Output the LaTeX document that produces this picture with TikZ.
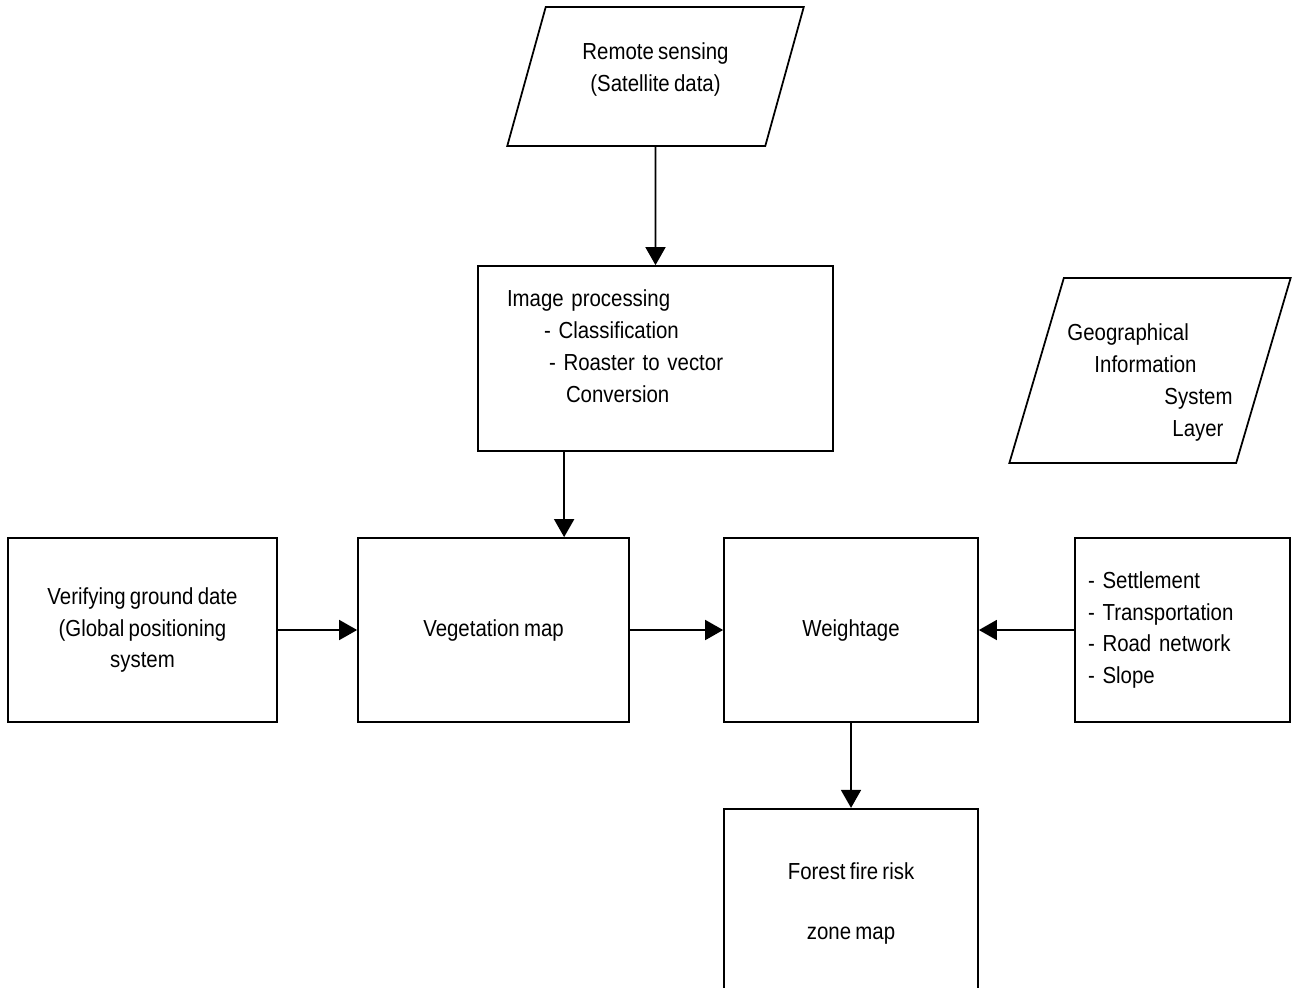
\documentclass[tikz,border=0pt]{standalone}
\usepackage{fontspec}
\setmainfont{Liberation Sans}[FakeStretch=0.88,WordSpace=0.75]
\usetikzlibrary{shapes.geometric,arrows.meta,positioning}
\tikzset{
	procbox/.style={rectangle, draw=black, line width=1pt, align=center,
		font=\fontsize{13.2}{18.2}\selectfont, inner sep=2pt},
	databox/.style={trapezium, trapezium left angle=70, trapezium right angle=110,
		trapezium stretches=true, draw=black, line width=1pt, align=center,
		font=\fontsize{13.2}{18.2}\selectfont, inner sep=2pt},
	flowarr/.style={-{Triangle[length=0.36cm,width=0.4cm]}, line width=1pt}
}

\begin{document}
\begin{tikzpicture}[node distance=1.7cm]
	\useasboundingbox (0,0) rectangle (25.86,-19.74);
	\clip (0,0) rectangle (25.86,-19.74);
	\node[databox, minimum width=5.94cm, minimum height=2.78cm] (rs) at (13.11,-1.53) {Remote sensing\\(Satellite data)\\[-8pt]\mbox{}};
	\node[procbox, minimum width=7.1cm, minimum height=3.7cm, text width=5.94cm, align=left] (img) at (13.11,-7.17)
		{Image processing\\\hspace*{0.74cm}- Classification\\\hspace*{0.84cm}- Roaster to vector\\\hspace*{1.18cm}Conversion\\[-4.6pt]\mbox{}};
	\node[databox, minimum width=5.64cm, minimum height=3.7cm, align=left] (gis) at (23.0,-7.41)
		{\mbox{}\\[5.5pt]Geographical\\\hspace*{0.54cm}Information\\\hspace*{1.94cm}System\\\hspace*{2.1cm}Layer};
	\node[procbox, minimum width=5.38cm, minimum height=3.68cm] (ver) at (2.85,-12.6) {Verifying ground date\\(Global positioning\\system};
	\node[procbox, minimum width=5.42cm, minimum height=3.68cm, right=1.585cm of ver] (veg) {Vegetation map};
	\node[procbox, minimum width=5.08cm, minimum height=3.68cm, right=1.865cm of veg] (wt) {Weightage};
	\node[procbox, minimum width=4.3cm, minimum height=3.68cm, right=1.905cm of wt, text width=3.78cm, align=left] (fac)
		{- Settlement\\- Transportation\\- Road network\\- Slope};
	\node[procbox, minimum width=5.08cm, minimum height=3.8cm, below=1.7cm of wt] (fire) {Forest fire risk\\[0.56cm]zone map};
	\coordinate (tap) at ([xshift=1.74cm]img.south west);
	\draw[flowarr] (rs) -- (img);
	\draw[flowarr] (tap) -- (tap |- veg.north);
	\draw[flowarr] (ver) -- (veg);
	\draw[flowarr] (veg) -- (wt);
	\draw[flowarr] (fac) -- (wt);
	\draw[flowarr] (wt) -- (fire);
\end{tikzpicture}
\end{document}
